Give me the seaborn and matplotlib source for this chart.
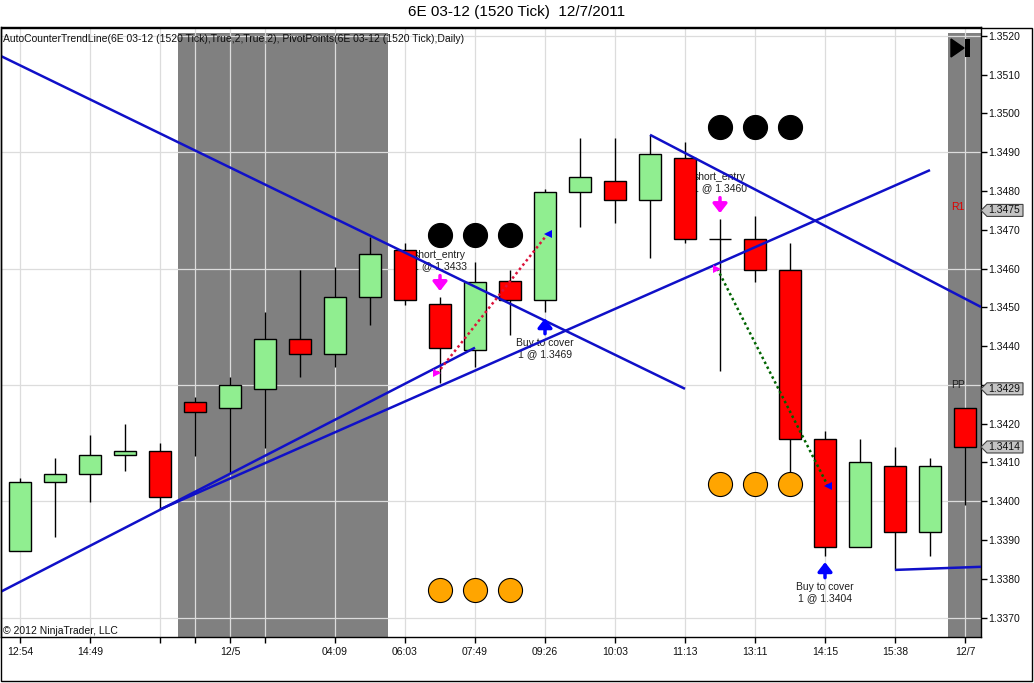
import matplotlib
matplotlib.use('Agg')
import matplotlib.pyplot as plt
import seaborn as sns
import numpy as np
import pandas as pd
from matplotlib.patches import Polygon, Rectangle

# ---------------- data ----------------
bar_idx = list(range(28))
opens = [1.33871, 1.34049, 1.34070, 1.34119, 1.34130, 1.34257, 1.34240, 1.34289,
         1.34418, 1.34379, 1.34526, 1.34648, 1.34508, 1.34390, 1.34567, 1.34519,
         1.34797, 1.34825, 1.34776, 1.34885, 1.34676, 1.34676, 1.34596, 1.34160,
         1.33881, 1.34090, 1.33920, 1.34240]
closes = [1.34049, 1.34070, 1.34119, 1.34130, 1.34010, 1.34230, 1.34299, 1.34418,
          1.34379, 1.34526, 1.34638, 1.34519, 1.34396, 1.34566, 1.34518, 1.34797,
          1.34836, 1.34776, 1.34896, 1.34676, 1.34676, 1.34596, 1.34160, 1.33881,
          1.34101, 1.33920, 1.34090, 1.34139]
highs = [1.34059, 1.34111, 1.34171, 1.34199, 1.34151, 1.34268, 1.34321, 1.34488,
         1.34597, 1.34605, 1.34682, 1.34665, 1.34526, 1.34618, 1.34597, 1.34805,
         1.34936, 1.34936, 1.34945, 1.34927, 1.34727, 1.34736, 1.34667, 1.34181,
         1.34160, 1.34139, 1.34112, 1.34240]
lows = [1.33871, 1.33909, 1.33999, 1.34079, 1.33979, 1.34117, 1.34073, 1.34137,
        1.34320, 1.34347, 1.34455, 1.34506, 1.34305, 1.34347, 1.34429, 1.34488,
        1.34706, 1.34717, 1.34627, 1.34665, 1.34336, 1.34566, 1.34074, 1.33859,
        1.33881, 1.33823, 1.33859, 1.33990]

tick_pos = [0, 2, 4, 5, 6, 7, 9, 11, 13, 15, 17, 19, 21, 23, 25, 27]
tick_labels = ['12:54', '14:49', '', '', '12/5', '', '04:09', '06:03', '07:49',
               '09:26', '10:03', '11:13', '13:11', '14:15', '15:38', '12/7']
y_ticks = [1.3370, 1.3380, 1.3390, 1.3400, 1.3410, 1.3420, 1.3430, 1.3440,
           1.3450, 1.3460, 1.3470, 1.3480, 1.3490, 1.3500, 1.3510, 1.3520]
y_tick_labels = ['1.3370', '1.3380', '1.3390', '1.3400', '1.3410', '1.3420', '', '1.3440',
                 '1.3450', '1.3460', '1.3470', '1.3480', '1.3490', '1.3500', '1.3510', '1.3520']
y_grid = [1.3370, 1.3400, 1.3430, 1.3460, 1.3490, 1.3520]

session_spans = [(4.5, 10.5), (26.5, 27.457)]

# trend lines (x = bar index, y = price)
trend_x = [[-0.543, 13], [4, 26], [-0.543, 19], [18, 27.457], [25, 27.457]]
trend_y = [[1.33767, 1.34396], [1.33979, 1.34854], [1.35148, 1.34290],
           [1.34945, 1.34501], [1.33823, 1.33831]]

# indicator dots
black_dot_bars = [12, 13, 14, 20, 21, 22]
black_dot_prices = [1.34687, 1.34687, 1.34687, 1.34965, 1.34965, 1.34965]
orange_dot_bars = [12, 13, 14, 20, 21, 22]
orange_dot_prices = [1.33771, 1.33771, 1.33771, 1.34044, 1.34044, 1.34044]

# trades
entry_bars = [12, 20]
entry_prices = [1.3433, 1.3460]
exit_bars = [15, 23]
exit_prices = [1.3469, 1.3404]
trade_colors = ['#DC143C', '#006400']

# pivot labels
pivot_names = ['R1', 'PP']
pivot_prices = [1.3475, 1.3429]
pivot_colors = ['#E00000', '#202020']
last_price = 1.3414

title = '6E 03-12 (1520 Tick)  12/7/2011'
indicator_text = 'AutoCounterTrendLine(6E 03-12 (1520 Tick),True,2,True,2), PivotPoints(6E 03-12 (1520 Tick),Daily)'
copyright_text = '\u00a9 2012 NinjaTrader, LLC'

# ---------------- style ----------------
sns.set_theme(style='white')
plt.rcParams['font.family'] = ['Liberation Sans', 'DejaVu Sans']

W, H = 1034, 683
fig = plt.figure(figsize=(W / 100, H / 100), dpi=100)
fig.patch.set_facecolor('white')
ax = fig.add_axes([1 / W, (H - 637) / H, 980 / W, 610 / H])
ax.set_facecolor('white')
ax.set_xlim(-0.543, 27.457)
ax.set_ylim(1.33650, 1.35223)

def px2ax(px, py):
    return ((px - 1) / 980.0, (637 - py) / 610.0)

# sessions shading
for a, b in session_spans:
    ax.axvspan(a, b, ymin=0.0, ymax=0.99, color='#808080', lw=0, zorder=0.5)

# grid
for t in tick_pos:
    ax.axvline(t, color='#DCDCDC', lw=0.9, zorder=1)
for g in y_grid:
    ax.axhline(g, color='#DCDCDC', lw=0.9, zorder=1)

# candles
df = pd.DataFrame({'i': bar_idx, 'o': opens, 'h': highs, 'l': lows, 'c': closes})
df['bottom'] = df[['o', 'c']].min(axis=1)
df['height'] = (df['c'] - df['o']).abs()
body_colors = np.where(df['c'] > df['o'], '#90EE90', '#FF0000')
ax.vlines(df['i'], df['l'], df['h'], color='black', lw=1, zorder=3)
ax.bar(df['i'], df['height'], bottom=df['bottom'], width=0.64, color=body_colors,
       edgecolor='black', linewidth=1, zorder=4)

# trade texts (behind candles)
for b, p in zip(entry_bars, entry_prices):
    ax.text(b, highs[b] + 0.00094, 'short_entry\n1 @ %.4f' % p, ha='center', va='center',
            fontsize=7.5, color='#202020', zorder=2, linespacing=1.15)
for b, p in zip(exit_bars, exit_prices):
    ax.text(b, lows[b] - 0.00094, 'Buy to cover\n1 @ %.4f' % p, ha='center', va='center',
            fontsize=7.5, color='#202020', zorder=2, linespacing=1.15)

# trend lines
for xs, ys in zip(trend_x, trend_y):
    ax.plot(xs, ys, color='#1010C8', lw=1.8, zorder=5, solid_capstyle='butt')

# dots
sns.scatterplot(x=black_dot_bars, y=black_dot_prices, color='black', s=300,
                edgecolor='black', linewidth=0.8, ax=ax, zorder=6, legend=False)
sns.scatterplot(x=orange_dot_bars, y=orange_dot_prices, color='#FFA500', s=300,
                edgecolor='black', linewidth=0.8, ax=ax, zorder=6, legend=False)

# trade connection lines, triangles and arrows
for eb, ep, xb, xp, col in zip(entry_bars, entry_prices, exit_bars, exit_prices, trade_colors):
    ax.plot([eb - 0.08, xb + 0.08], [ep, xp], color=col, lw=1.8, ls=(0, (1, 1.2)), zorder=7)
    ax.plot([eb - 0.08], [ep], marker='>', color='#FF00FF', ms=6, mew=0, zorder=8)
    ax.plot([xb + 0.08], [xp], marker='<', color='#0000FF', ms=6, mew=0, zorder=8)
    ax.annotate('', xy=(eb, highs[eb] + 0.00016), xytext=(eb, highs[eb] + 0.00056),
                arrowprops=dict(arrowstyle='-|>,head_width=0.35,head_length=0.45',
                                color='#FF00FF', lw=2.5, shrinkA=0, shrinkB=0), zorder=8)
    ax.annotate('', xy=(xb, lows[xb] - 0.00016), xytext=(xb, lows[xb] - 0.00056),
                arrowprops=dict(arrowstyle='-|>,head_width=0.35,head_length=0.45',
                                color='#0000FF', lw=2.5, shrinkA=0, shrinkB=0), zorder=8)

# axes styling
for s in ax.spines.values():
    s.set_color('black')
    s.set_linewidth(1)
ax.set_xticks(tick_pos)
ax.set_xticklabels(tick_labels)
ax.yaxis.tick_right()
ax.set_yticks(y_ticks)
ax.set_yticklabels(y_tick_labels)
ax.tick_params(axis='x', direction='out', length=4, width=1, color='black', pad=3,
               labelsize=7.5, labelcolor='#101010', bottom=True)
ax.tick_params(axis='y', direction='out', length=4, width=1, color='black', pad=1.5,
               labelsize=7.5, labelcolor='#101010', right=True, left=False)
ax.grid(False)

# pivot names
for name, p, c in zip(pivot_names, pivot_prices, pivot_colors):
    ax.text(26.6, p + 0.0001, name, ha='left', va='center', fontsize=7.5, color=c, zorder=9)

# price boxes on right axis
yt = ax.get_yaxis_transform()
half = 6 * (1.35223 - 1.33650) / 610.0
for p in pivot_prices + [last_price]:
    x0, x1, x2 = 1.0, 1.00612, 1.04286
    poly = Polygon([(x0, p), (x1, p - half), (x2, p - half), (x2, p + half), (x1, p + half)],
                   closed=True, transform=yt, facecolor='#C4C4C4', edgecolor='#404040',
                   lw=0.8, clip_on=False, zorder=10)
    ax.add_patch(poly)
    ax.text(1.0078, p, '%.4f' % p, transform=yt, ha='left', va='center', fontsize=7.5,
            color='#101010', clip_on=False, zorder=11)

# play-to-end icon
tri = Polygon([px2ax(951, 39), px2ax(964, 48), px2ax(951, 57)], closed=True,
              transform=ax.transAxes, facecolor='black', edgecolor='black', zorder=9)
ax.add_patch(tri)
barp = Rectangle(px2ax(965, 57), 5 / 980.0, 18 / 610.0, transform=ax.transAxes,
                 facecolor='black', edgecolor='none', zorder=9)
ax.add_patch(barp)

# texts
ax.text(*px2ax(3, 39), indicator_text, transform=ax.transAxes, ha='left', va='center',
        fontsize=7.5, color='#101010', zorder=9)
ax.text(*px2ax(3, 631), copyright_text, transform=ax.transAxes, ha='left', va='center',
        fontsize=7.5, color='#101010', zorder=9)
fig.text(0.5, 1 - 12 / H, title, ha='center', va='center', fontsize=11, color='black')

# outer frame
fig.add_artist(Rectangle((0.5 / W, 2.5 / H), 1031.5 / W, (680 - 27) / H, transform=fig.transFigure,
                         fill=False, edgecolor='black', lw=1))

fig.savefig('out.png', dpi=100)
